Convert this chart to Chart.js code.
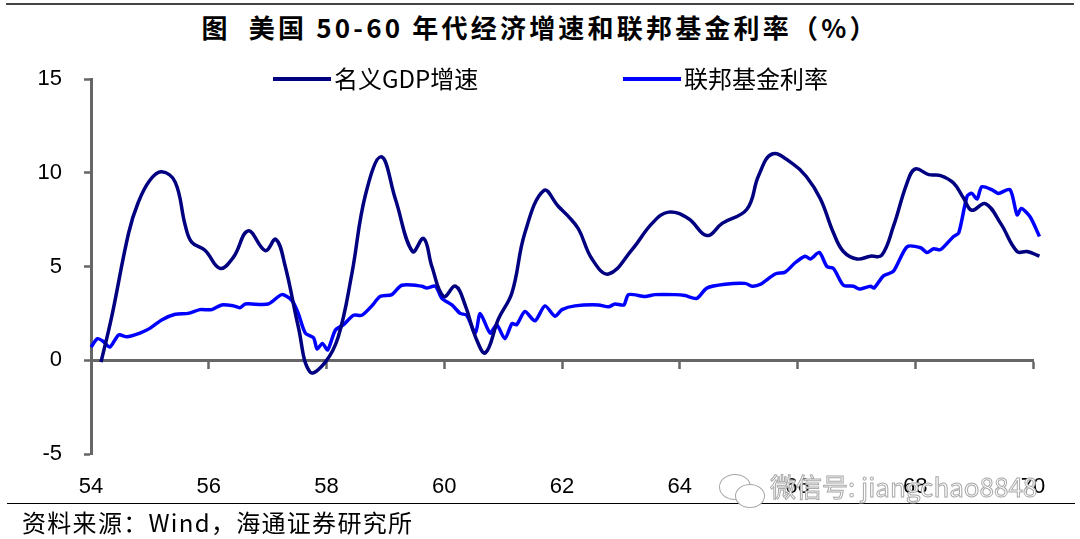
<!DOCTYPE html>
<html>
<head>
<meta charset="utf-8">
<script src="https://cdn.jsdelivr.net/npm/chart.js@4.4.1/dist/chart.umd.min.js"></script>
<style>
  body { margin: 0; background: #fff; }
  #wrap { position: relative; width: 1080px; height: 539px; overflow: hidden; background: #fff; }
  #chartBox { position: absolute; left: 0; top: 0; width: 1080px; height: 539px; }
  .topline { position: absolute; left: 6px; top: 3px; width: 1068px; height: 2px; background: #444; }
  .title { position: absolute; left: 0; top: 10px; width: 1080px; text-align: center;
           font: bold 26px "Noto Sans CJK SC", sans-serif; letter-spacing: 3.2px; color: #000; line-height: 34px; }
  .legend { position: absolute; top: 64px; font: 24px "Noto Sans CJK SC", sans-serif; color: #000; line-height: 28px; white-space: nowrap; }
  .legend span.swatch { display: inline-block; width: 58px; height: 4px; vertical-align: middle; margin-right: 3px; position: relative; top: -2px; }
  .srcline { position: absolute; left: 7px; top: 503px; width: 1068px; height: 1px; background: #000; }
  .source { position: absolute; left: 22px; top: 507px; font: 24px "Noto Sans CJK SC", sans-serif; letter-spacing: 1.3px; color: #000; line-height: 30px; white-space: nowrap; }
  .wm { position: absolute; left: 770px; top: 470px; font: 26px "Noto Sans CJK SC", sans-serif; color: #fff;
        -webkit-text-stroke: 1px #a8a8a8; line-height: 32px; white-space: nowrap; }
  .bub { position: absolute; border: 1.5px solid #a8a8a8; border-radius: 50%; background: #fff; }
</style>
</head>
<body>
<div id="wrap">
  <div class="topline"></div>
  <div class="title">图&nbsp;&nbsp;美国 50-60 年代经济增速和联邦基金利率（%）</div>
  <div id="chartBox"><canvas id="chart"></canvas></div>
  <div class="legend" style="left:273px;"><span class="swatch" style="background:#000080;"></span>名义GDP增速</div>
  <div class="legend" style="left:623px;"><span class="swatch" style="background:#0000ff;"></span>联邦基金利率</div>
  <div class="srcline"></div>
  <div class="source">资料来源：Wind，海通证券研究所</div>
  <div class="bub" style="left:719px;top:474px;width:30px;height:24px;"></div>
  <div class="bub" style="left:735px;top:484px;width:28px;height:22px;"></div>
  <div class="wm">微信号: jiangchao8848</div>
</div>
<script>
// nominal GDP growth, % (x = year, 54 = 1954)
const gdpYears = [54.17, 54.35, 54.64, 54.8, 55.0, 55.2, 55.43, 55.6, 55.71, 55.94, 56.19, 56.42, 56.67, 56.96, 57.14, 57.3,
  57.52, 57.72, 57.98, 58.2, 58.43, 58.66, 58.93, 59.17, 59.46, 59.65, 59.79, 59.99, 60.19, 60.36, 60.53, 60.7,
  60.92, 61.15, 61.37, 61.69, 61.94, 62.1, 62.28, 62.51, 62.79, 63.19, 63.53, 63.81, 64.15, 64.46, 64.72, 65.14,
  65.34, 65.57, 65.91, 66.15, 66.39, 66.61, 66.78, 67.01, 67.24, 67.43, 67.63, 67.86, 68.0, 68.23, 68.43, 68.65,
  68.82, 68.96, 69.19, 69.45, 69.73, 69.9, 70.11];
const gdpValues = [-0.1, 2.3, 6.8, 8.4, 9.6, 10.05, 9.5, 7.2, 6.3, 5.85, 4.9, 5.5, 6.9, 5.85, 6.45, 5.0,
  1.8, -0.63, -0.1, 1.25, 4.6, 8.8, 10.85, 8.6, 5.8, 6.5, 5.0, 3.4, 3.95, 2.9, 1.25, 0.4,
  2.2, 3.6, 6.8, 9.05, 8.2, 7.7, 7.0, 5.4, 4.6, 5.9, 7.3, 7.9, 7.55, 6.65, 7.3, 8.05,
  9.85, 11.0, 10.5, 9.8, 8.6, 6.8, 5.8, 5.4, 5.55, 5.6, 7.15, 9.45, 10.2, 9.9, 9.85, 9.45,
  8.65, 8.0, 8.35, 7.3, 5.8, 5.8, 5.55];

// federal funds rate, %
const fedYears = [54.0, 54.11, 54.21, 54.32, 54.47, 54.61, 54.83, 55.0, 55.2, 55.43, 55.65, 55.85, 56.05, 56.22, 56.42, 56.53,
  56.62, 57.01, 57.24, 57.41, 57.52, 57.64, 57.78, 57.84, 57.93, 58.02, 58.15, 58.29, 58.46, 58.6, 58.77, 58.91,
  59.11, 59.28, 59.62, 59.7, 59.85, 59.96, 60.13, 60.27, 60.38, 60.53, 60.61, 60.78, 60.89, 61.03, 61.15, 61.23,
  61.37, 61.54, 61.71, 61.88, 62.0, 62.22, 62.62, 62.79, 62.9, 63.05, 63.13, 63.41, 63.58, 63.92, 64.09, 64.29,
  64.46, 64.77, 65.11, 65.23, 65.37, 65.62, 65.79, 65.96, 66.13, 66.22, 66.37, 66.5, 66.61, 66.78, 66.95, 67.05,
  67.24, 67.3, 67.46, 67.63, 67.86, 68.09, 68.2, 68.31, 68.43, 68.65, 68.74, 68.88, 68.96, 69.05, 69.13, 69.3,
  69.41, 69.61, 69.73, 69.8, 69.95, 70.11];
const fedValues = [0.7, 1.15, 1.0, 0.7, 1.35, 1.25, 1.45, 1.7, 2.15, 2.45, 2.5, 2.7, 2.7, 2.95, 2.9, 2.8,
  3.0, 3.0, 3.5, 3.2, 2.5, 1.45, 1.2, 0.6, 0.9, 0.55, 1.6, 1.9, 2.4, 2.4, 2.9, 3.4,
  3.5, 4.0, 3.95, 3.85, 3.95, 3.3, 2.95, 2.5, 2.4, 1.45, 2.5, 1.45, 1.9, 1.15, 1.95, 1.9,
  2.6, 2.1, 2.9, 2.35, 2.7, 2.9, 2.95, 2.85, 3.0, 2.95, 3.5, 3.4, 3.5, 3.5, 3.45, 3.3,
  3.85, 4.05, 4.1, 3.95, 4.05, 4.6, 4.7, 5.2, 5.55, 5.4, 5.75, 5.0, 4.9, 4.0, 3.95, 3.8,
  3.95, 3.85, 4.5, 4.75, 6.05, 6.0, 5.75, 5.95, 5.9, 6.6, 6.8, 8.75, 8.9, 8.6, 9.25, 9.1,
  8.9, 9.1, 7.75, 8.1, 7.65, 6.6];

const xTicks = [54, 56, 58, 60, 62, 64, 66, 68, 70];
const yTicks = [-5, 0, 5, 10, 15];

const axisGrey = '#666666';
const tickFont = { family: '"Liberation Sans", Arial, sans-serif', size: 22 };

new Chart(document.getElementById('chart'), {
  type: 'line',
  data: {
    datasets: [
      {
        label: '名义GDP增速',
        data: gdpYears.map((x, i) => ({ x: x, y: gdpValues[i] })),
        borderColor: '#000080',
        borderWidth: 3.5,
        pointRadius: 0,
        tension: 0.4,
        clip: false
      },
      {
        label: '联邦基金利率',
        data: fedYears.map((x, i) => ({ x: x, y: fedValues[i] })),
        borderColor: '#0000ff',
        borderWidth: 3.5,
        pointRadius: 0,
        tension: 0.25,
        clip: false
      }
    ]
  },
  options: {
    responsive: true,
    maintainAspectRatio: false,
    animation: false,
    layout: { padding: { top: 79, right: 47, left: 0, bottom: 0 } },
    plugins: { legend: { display: false }, tooltip: { enabled: false } },
    scales: {
      x: {
        type: 'linear',
        position: 'bottom',
        min: 54, max: 70,
        afterFit: s => { s.height = 85; },
        afterBuildTicks: s => { s.ticks = xTicks.map(v => ({ value: v })); },
        grid: { display: false },
        border: { display: false },
        ticks: { font: tickFont, color: '#000', padding: 12, maxRotation: 0 }
      },
      xZero: {
        type: 'linear',
        axis: 'x',
        position: { y: 0 },
        min: 54, max: 70,
        afterBuildTicks: s => { s.ticks = xTicks.map(v => ({ value: v })); },
        grid: { drawOnChartArea: false, drawTicks: true, tickLength: 7, tickColor: axisGrey, tickWidth: 2.5, color: axisGrey },
        border: { display: true, color: axisGrey, width: 3 },
        ticks: { color: 'rgba(0,0,0,0)', font: { size: 1 } }
      },
      y: {
        min: -5, max: 15,
        afterFit: s => { s.width = 91; },
        afterBuildTicks: s => { s.ticks = yTicks.map(v => ({ value: v })); },
        grid: { drawOnChartArea: false, drawTicks: true, tickLength: 7, tickColor: axisGrey, tickWidth: 2.5, color: axisGrey },
        border: { display: true, color: axisGrey, width: 3 },
        ticks: { font: tickFont, color: '#000', padding: 22 }
      }
    }
  }
});
</script>
</body>
</html>
